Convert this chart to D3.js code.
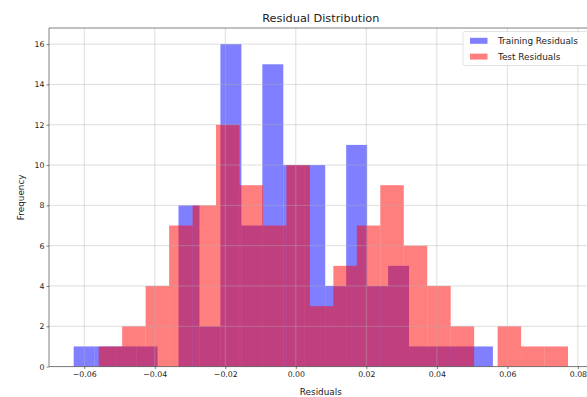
<!DOCTYPE html>
<html>
<head>
<meta charset="utf-8">
<script src="https://cdn.jsdelivr.net/npm/d3@7"></script>
<style>
  html, body { margin: 0; padding: 0; background: #fff; overflow: hidden; }
  svg { display: block; font-family: "DejaVu Sans", sans-serif; }
</style>
</head>
<body>
<svg id="chart" width="587" height="397"></svg>
<script>
// ---- data ----
const seriesNames = ["Training Residuals", "Test Residuals"];
const trainRange = [-0.0630, 0.0559];   // histogram range, 20 equal bins
const trainCounts = [1, 1, 1, 1, 0, 8, 2, 16, 7, 15, 10, 10, 4, 11, 4, 5, 1, 1, 1, 1];
const testRange = [-0.0559, 0.0772];    // histogram range, 20 equal bins
const testCounts = [1, 2, 4, 7, 8, 12, 9, 7, 10, 3, 5, 7, 9, 6, 4, 2, 0, 2, 1, 1];
const xTicks = [-0.06, -0.04, -0.02, 0.00, 0.02, 0.04, 0.06, 0.08];
const yTicks = [0, 2, 4, 6, 8, 10, 12, 14, 16];
const titleText = "Residual Distribution";
const xLabel = "Residuals";
const yLabel = "Frequency";

(function () {
// ---- layout ----
const svg = d3.select("#chart");
const pL = 49, pR = 592.7, pT = 28, pB = 366.6;

const x = d3.scaleLinear().domain([-0.0700, 0.0842]).range([pL, pR]);
const y = d3.scaleLinear().domain([0, 16.8]).range([pB, pT]);

function toBins(range, counts) {
  const w = (range[1] - range[0]) / counts.length;
  return counts.map((c, i) => ({ x0: range[0] + i * w, x1: range[0] + (i + 1) * w, c }));
}

svg.append("defs").append("clipPath").attr("id", "plotclip")
  .append("rect").attr("x", pL).attr("y", pT).attr("width", pR - pL).attr("height", pB - pT);

const plot = svg.append("g").attr("clip-path", "url(#plotclip)");

// bars: training (blue) then test (red) on top, both alpha 0.5
const series = [
  { bins: toBins(trainRange, trainCounts), color: "blue" },
  { bins: toBins(testRange, testCounts), color: "red" }
];
series.forEach(s => {
  plot.append("g").selectAll("rect").data(s.bins).enter().append("rect")
    .attr("x", d => x(d.x0))
    .attr("width", d => x(d.x1) - x(d.x0))
    .attr("y", d => y(d.c))
    .attr("height", d => y(0) - y(d.c))
    .attr("fill", s.color)
    .attr("fill-opacity", 0.5);
});

// grid (drawn above the patches, like matplotlib default)
const grid = svg.append("g").attr("clip-path", "url(#plotclip)");
grid.selectAll(".vx").data(xTicks).enter().append("line")
  .attr("x1", d => x(d)).attr("x2", d => x(d))
  .attr("y1", pT).attr("y2", pB)
  .attr("stroke", "#b0b0b0").attr("stroke-width", 0.6).attr("stroke-opacity", 0.7);
grid.selectAll(".hy").data(yTicks).enter().append("line")
  .attr("x1", pL).attr("x2", pR)
  .attr("y1", d => y(d)).attr("y2", d => y(d))
  .attr("stroke", "#b0b0b0").attr("stroke-width", 0.6).attr("stroke-opacity", 0.7);

// axes
const fmtX = d => d3.format(".2f")(d).replace("-", "\u2212");
const xAxis = d3.axisBottom(x).tickValues(xTicks).tickFormat(fmtX).tickSize(2.5).tickPadding(2);
const yAxis = d3.axisLeft(y).tickValues(yTicks).tickFormat(d3.format("d")).tickSize(2.5).tickPadding(2);

const gx = svg.append("g").attr("transform", `translate(0,${pB})`).call(xAxis);
const gy = svg.append("g").attr("transform", `translate(${pL},0)`).call(yAxis);
[gx, gy].forEach(g => {
  g.select(".domain").remove();
  g.selectAll(".tick line").attr("stroke", "#000").attr("stroke-width", 0.5);
  g.selectAll(".tick text").attr("fill", "#222").attr("font-size", 7.8)
    .attr("font-family", "DejaVu Sans, sans-serif");
});

// spines
const sp = svg.append("g").attr("stroke", "#000").attr("stroke-width", 0.5);
sp.append("line").attr("x1", pL).attr("x2", pL).attr("y1", pT).attr("y2", pB);
sp.append("line").attr("x1", pL).attr("x2", pR).attr("y1", pB).attr("y2", pB);
sp.append("line").attr("x1", pL).attr("x2", pR).attr("y1", pT).attr("y2", pT);
sp.append("line").attr("x1", pR).attr("x2", pR).attr("y1", pT).attr("y2", pB);

// title and axis labels
svg.append("text").attr("x", (pL + pR) / 2).attr("y", 21.5)
  .attr("text-anchor", "middle").attr("font-size", 11.3).attr("fill", "#222").text(titleText);
svg.append("text").attr("x", (pL + pR) / 2).attr("y", 395)
  .attr("text-anchor", "middle").attr("font-size", 8.9).attr("fill", "#222").text(xLabel);
svg.append("text").attr("transform", `translate(23.5,${(pT + pB) / 2}) rotate(-90)`)
  .attr("text-anchor", "middle").attr("font-size", 8.9).attr("fill", "#222").text(yLabel);

// legend (upper right)
const lg = svg.append("g");
const lgX = 463, lgY = 31.5;
lg.append("rect").attr("x", lgX).attr("y", lgY).attr("width", pR - 4 - lgX).attr("height", 34)
  .attr("rx", 2).attr("fill", "#fff").attr("fill-opacity", 0.8)
  .attr("stroke", "#d0d0d0").attr("stroke-width", 0.6);
seriesNames.forEach((name, i) => {
  const cy = 40.8 + i * 15.8;
  lg.append("rect").attr("x", 470).attr("y", cy - 3).attr("width", 17.5).attr("height", 6)
    .attr("fill", series[i].color).attr("fill-opacity", 0.5);
  lg.append("text").attr("x", 498).attr("y", cy + 3.2).attr("font-size", 8.9)
    .attr("fill", "#222").text(name);
});
})();
</script>
</body>
</html>
